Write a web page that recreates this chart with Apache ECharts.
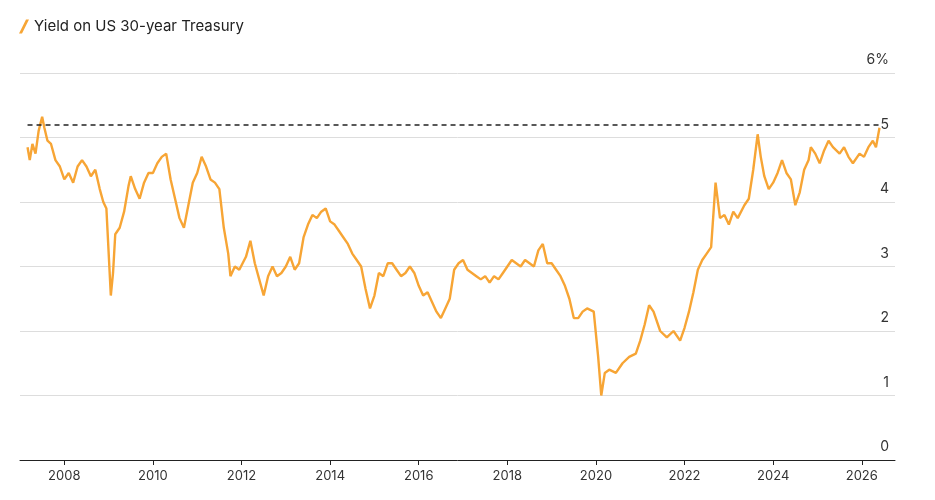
<!DOCTYPE html>
<html><head><meta charset="utf-8">
<script src="https://cdn.jsdelivr.net/npm/echarts@6/dist/echarts.min.js"></script>
<style>html,body{margin:0;background:#fff}#c{width:935px;height:500px}</style>
</head><body><div id="c"></div>
<script>
// [decimal year, yield %]
const yieldPoints = [
[2007.17,4.85],[2007.22,4.65],[2007.28,4.9],[2007.35,4.75],[2007.42,5.1],[2007.5,5.32],[2007.55,5.15],[2007.62,4.95],[2007.7,4.9],[2007.8,4.65],[2007.9,4.55],
[2008.0,4.35],[2008.1,4.45],[2008.2,4.3],[2008.3,4.55],[2008.4,4.65],[2008.5,4.55],[2008.6,4.4],[2008.7,4.5],[2008.8,4.2],[2008.88,4.0],[2008.95,3.9],
[2009.05,2.55],[2009.1,2.9],[2009.15,3.5],[2009.25,3.6],[2009.35,3.85],[2009.45,4.25],[2009.5,4.4],[2009.6,4.2],[2009.7,4.05],[2009.8,4.3],[2009.9,4.45],
[2010.0,4.45],[2010.1,4.6],[2010.2,4.7],[2010.3,4.75],[2010.4,4.35],[2010.5,4.05],[2010.6,3.75],[2010.7,3.6],[2010.8,3.95],[2010.9,4.3],
[2011.0,4.45],[2011.1,4.7],[2011.2,4.55],[2011.3,4.35],[2011.4,4.3],[2011.5,4.2],[2011.6,3.6],[2011.7,3.2],[2011.75,2.85],[2011.85,3.0],[2011.95,2.95],
[2012.1,3.15],[2012.2,3.4],[2012.3,3.05],[2012.4,2.8],[2012.5,2.55],[2012.6,2.85],[2012.7,3.0],[2012.8,2.85],[2012.9,2.9],
[2013.0,3.0],[2013.1,3.15],[2013.2,2.95],[2013.3,3.05],[2013.4,3.45],[2013.5,3.65],[2013.6,3.8],[2013.7,3.75],[2013.8,3.85],[2013.9,3.9],
[2014.0,3.7],[2014.1,3.65],[2014.2,3.55],[2014.3,3.45],[2014.4,3.35],[2014.5,3.2],[2014.6,3.1],[2014.7,3.0],[2014.8,2.65],[2014.9,2.35],
[2015.0,2.55],[2015.1,2.9],[2015.2,2.85],[2015.3,3.05],[2015.4,3.05],[2015.5,2.95],[2015.6,2.85],[2015.7,2.9],[2015.8,3.0],[2015.9,2.9],
[2016.0,2.7],[2016.1,2.55],[2016.2,2.6],[2016.3,2.45],[2016.4,2.3],[2016.5,2.2],[2016.6,2.35],[2016.7,2.5],[2016.8,2.95],[2016.9,3.05],
[2017.0,3.1],[2017.1,2.95],[2017.2,2.9],[2017.3,2.85],[2017.4,2.8],[2017.5,2.85],[2017.6,2.75],[2017.7,2.85],[2017.8,2.8],[2017.9,2.9],
[2018.0,3.0],[2018.1,3.1],[2018.2,3.05],[2018.3,3.0],[2018.4,3.1],[2018.5,3.05],[2018.6,3.0],[2018.7,3.25],[2018.8,3.35],[2018.9,3.05],
[2019.0,3.05],[2019.1,2.95],[2019.2,2.85],[2019.3,2.7],[2019.4,2.5],[2019.5,2.2],[2019.6,2.2],[2019.7,2.3],[2019.8,2.35],[2019.95,2.3],
[2020.05,1.6],[2020.12,1.0],[2020.2,1.35],[2020.3,1.4],[2020.45,1.35],[2020.6,1.5],[2020.75,1.6],[2020.9,1.65],
[2021.0,1.85],[2021.1,2.1],[2021.2,2.4],[2021.3,2.3],[2021.45,2.0],[2021.6,1.9],[2021.75,2.0],[2021.9,1.85],
[2022.0,2.05],[2022.1,2.3],[2022.2,2.6],[2022.3,2.95],[2022.4,3.1],[2022.5,3.2],[2022.6,3.3],[2022.7,4.3],[2022.8,3.75],[2022.9,3.8],
[2023.0,3.65],[2023.1,3.85],[2023.2,3.75],[2023.35,3.95],[2023.45,4.05],[2023.55,4.5],[2023.65,5.05],[2023.72,4.7],[2023.8,4.4],[2023.9,4.2],
[2024.0,4.3],[2024.1,4.45],[2024.2,4.65],[2024.3,4.45],[2024.4,4.35],[2024.5,3.95],[2024.6,4.15],[2024.7,4.5],[2024.8,4.65],[2024.85,4.85],[2024.95,4.75],
[2025.05,4.6],[2025.15,4.8],[2025.25,4.95],[2025.35,4.85],[2025.5,4.75],[2025.6,4.85],[2025.7,4.7],[2025.8,4.6],[2025.95,4.75],
[2026.05,4.7],[2026.15,4.85],[2026.25,4.95],[2026.32,4.85],[2026.4,5.15]
];
const yTicks = [0,1,2,3,4,5,6];
const xTicks = [2008,2010,2012,2014,2016,2018,2020,2022,2024,2026];
const refLevel = 5.2;
const seriesName = 'Yield on US 30-year Treasury';

const chart = echarts.init(document.getElementById('c'));
chart.setOption({
  animation:false,
  textStyle:{fontFamily:'Inter, Roboto, sans-serif'},
  grid:{left:20,right:40,top:73,bottom:40},
  legend:{left:14,top:14,itemWidth:10,itemHeight:14,icon:'path://M0,14 L7,0 L10,0 L3,14 Z',
    textStyle:{fontSize:15,color:'#222'},data:[seriesName]},
  xAxis:{type:'value',min:2007,max:2026.75,
    axisLine:{lineStyle:{color:'#222',width:1}},
    axisTick:{show:true,customValues:xTicks,length:5,lineStyle:{color:'#222'}},
    axisLabel:{customValues:xTicks,color:'#333',fontSize:13,margin:10,formatter:v=>String(v)},
    splitLine:{show:false}},
  yAxis:{type:'value',position:'right',min:0,max:6,interval:1,
    axisLine:{show:false},axisTick:{show:false},
    axisLabel:{inside:true,verticalAlign:'bottom',margin:6,padding:[0,0,6,0],color:'#333',fontSize:14,
      formatter:v=>v===6?'6%':String(v)},
    splitLine:{lineStyle:{color:'#ddd'}}},
  series:[{name:seriesName,type:'line',showSymbol:false,symbol:'none',
    data:yieldPoints,
    lineStyle:{color:'#f7a535',width:2.4},itemStyle:{color:'#f7a535'},
    markLine:{silent:true,symbol:'none',label:{show:false},
      lineStyle:{color:'#222',type:[5,4],width:1.5},
      data:[[{coord:[2007.17,refLevel]},{coord:[2026.4,refLevel]}]]}}]
});
</script></body></html>
